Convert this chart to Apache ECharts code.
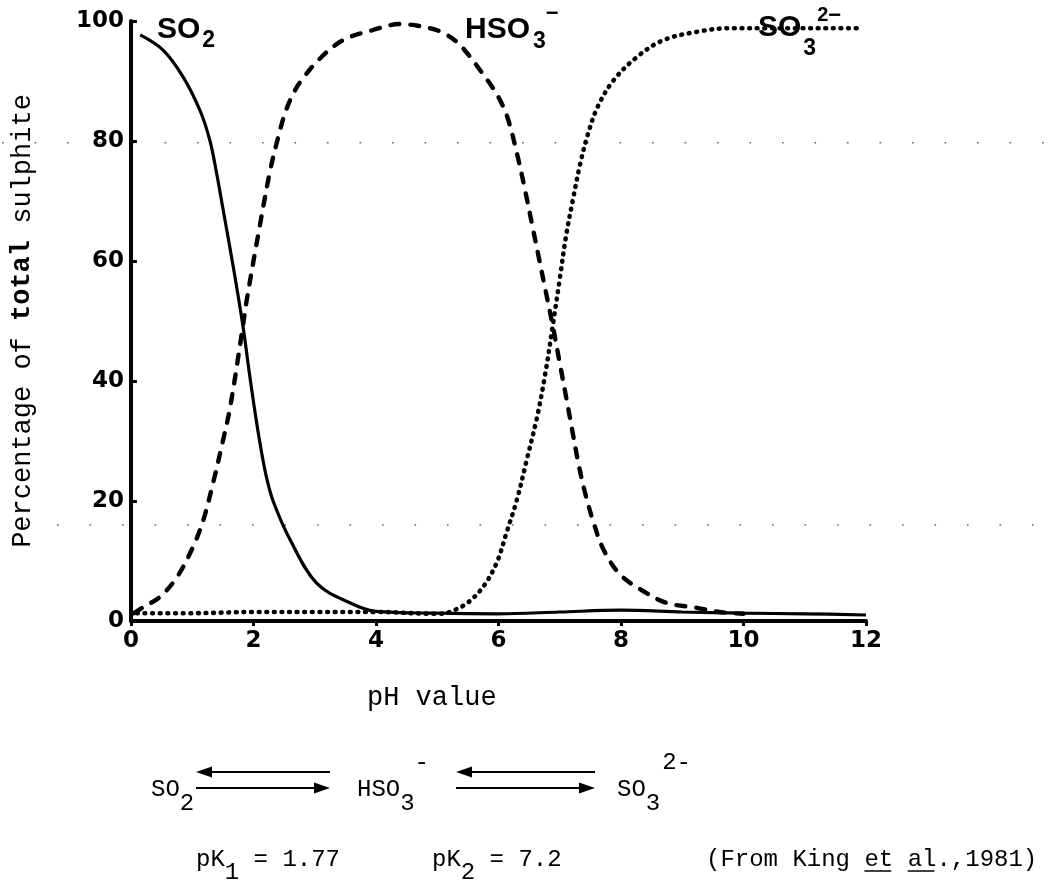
<!DOCTYPE html>
<html><head><meta charset="utf-8">
<script src="https://cdn.jsdelivr.net/npm/echarts@6/dist/echarts.min.js"></script>
<style>html,body{margin:0;padding:0;background:#fff}#c{width:1048px;height:883px}</style>
</head><body><div id="c"></div>
<script>
// ---- data ----
const xTicks = [0, 2, 4, 6, 8, 10, 12];
const yTicks = [0, 20, 40, 60, 80, 100];
// SO2 (solid)
const so2 = [[0.15,97.7],[0.52,95.2],[0.85,90.7],[1.13,85],[1.29,80],[1.4,74.5],[1.5,68.8],[1.67,59],[1.83,49],[1.93,41.5],[2.0,36.5],[2.1,30],[2.2,24.5],[2.32,20],[2.6,13.5],[3.03,6.3],[3.58,3],[4.0,1.6],[5,1.3],[6,1.2],[7,1.5],[8,1.8],[9,1.5],[10,1.3],[11,1.2],[12,1.0]];
// HSO3- (dashed)
const hso3 = [[0.05,1.3],[0.2,2.3],[0.47,4],[0.75,7.3],[1.01,12.3],[1.18,16.8],[1.34,23],[1.5,30],[1.62,35.7],[1.81,48],[1.89,53.5],[2.1,65.7],[2.27,75],[2.4,80.5],[2.51,84.5],[2.62,87.3],[2.76,89.8],[3.09,93.8],[3.46,96.8],[3.95,98.5],[4.39,99.5],[4.88,98.8],[5.1,98],[5.32,96.5],[5.5,94.5],[5.7,91.8],[5.91,88.8],[6.05,86.3],[6.16,83.5],[6.3,78],[6.43,72],[6.55,66],[6.66,60.5],[6.78,54.5],[6.89,49],[7.0,43],[7.11,37],[7.2,32],[7.3,26.5],[7.41,21.5],[7.55,16.5],[7.71,12],[7.98,7.8],[8.36,5],[8.75,3],[9.24,2.2],[9.6,1.5],[10,1.2]];
// SO3 2- (dotted)
const so3 = [[0.1,1.3],[1,1.3],[2,1.5],[3,1.5],[4,1.5],[5,1.2],[5.2,1.5],[5.49,3],[5.75,5.7],[5.97,9.7],[6.13,14.7],[6.3,20.2],[6.46,26.8],[6.63,34],[6.76,41],[6.89,49.5],[7.0,57],[7.1,64],[7.22,70.5],[7.33,76],[7.45,80.8],[7.61,85.5],[7.87,90],[8.26,94],[8.69,96.8],[9.24,98.2],[9.78,98.8],[11.95,98.8]];
const pageDotLevels = [79.7, 16];
const xTitle = 'pH value';
const yTitleParts = ['Percentage of ', 'total', ' sulphite'];
const pK1 = '1.77', pK2 = '7.2';

// ---- chart ----
const chart = echarts.init(document.getElementById('c'), null, {renderer: 'canvas'});
const mono = '"Liberation Mono", "Courier New", monospace';
const sans = '"Liberation Sans", Arial, sans-serif';
const tickFam = '"DejaVu Sans", sans-serif';

chart.setOption({
  animation: false,
  backgroundColor: '#fff',
  grid: {left: 131, right: 182, top: 21, bottom: 262},
  xAxis: {
    type: 'value', min: xTicks[0], max: xTicks[xTicks.length-1], interval: 2,
    axisLine: {show: true, lineStyle: {color: '#000', width: 4}},
    axisTick: {show: true, length: 5, lineStyle: {color: '#000', width: 3}},
    axisLabel: {color: '#000', fontFamily: tickFam, fontWeight: 'bold', fontSize: 23, margin: 9},
    splitLine: {show: false}
  },
  yAxis: {
    type: 'value', min: yTicks[0], max: yTicks[yTicks.length-1], interval: 20,
    axisLine: {show: true, lineStyle: {color: '#000', width: 4}},
    axisTick: {show: true, inside: true, length: 6, lineStyle: {color: '#000', width: 3}},
    axisLabel: {color: '#000', fontFamily: tickFam, fontWeight: 'bold', fontSize: 23, margin: 7},
    splitLine: {show: false},
    name: '{n|' + yTitleParts[0] + '}{b|' + yTitleParts[1] + '}{n|' + yTitleParts[2] + '}',
    nameLocation: 'middle', nameGap: 95,
    nameTextStyle: {
      rich: {
        n: {fontFamily: mono, fontSize: 27, color: '#000'},
        b: {fontFamily: mono, fontSize: 27, fontWeight: 'bold', color: '#000'}
      }
    }
  },
  series: [
    {type: 'line', data: so2, showSymbol: false, smooth: 0.35,
     lineStyle: {color: '#000', width: 3.2}, z: 3},
    {type: 'line', data: hso3, showSymbol: false, smooth: 0.35,
     lineStyle: {color: '#000', width: 4.4, type: [9, 11], cap: 'round'}, z: 3},
    {type: 'line', data: so3, showSymbol: false, smooth: 0.35,
     lineStyle: {color: '#000', width: 4.6, type: [0.8, 6.8], cap: 'round'}, z: 3}
  ]
});

// ---- annotations ----
const ctx = document.createElement('canvas').getContext('2d');
function formula(x, y, parts, o) {
  const els = []; let cx = x;
  for (const p of parts) {
    const size = p.size || o.size;
    const weight = o.weight || 'normal';
    const px = cx + (p.dx || 0);
    els.push({type: 'text', x: px, y: y + (p.dy || 0), silent: true, z: 100,
      style: {text: p.t, fontSize: size, fontFamily: o.family, fontWeight: weight, fill: '#000',
              textAlign: 'left', align: 'left', textVerticalAlign: 'middle', verticalAlign: 'middle'}});
    ctx.font = weight + ' ' + size + 'px ' + o.family;
    cx = px + ctx.measureText(p.t).width;
    if (p.under) {
      els.push({type: 'line', silent: true, z: 100, shape: {x1: px, y1: y + 11, x2: cx - 2, y2: y + 11},
        style: {stroke: '#000', lineWidth: 1.5}});
    }
  }
  return els;
}
function arrowPair(x1, x2, yTop, yBot) {
  const hl = 16, hh = 5.5;
  return [
    {type: 'line', silent: true, shape: {x1: x1 + hl - 2, y1: yTop, x2: x2, y2: yTop}, style: {stroke: '#000', lineWidth: 2}},
    {type: 'polygon', silent: true, shape: {points: [[x1, yTop], [x1 + hl, yTop - hh], [x1 + hl, yTop + hh]]}, style: {fill: '#000'}},
    {type: 'line', silent: true, shape: {x1: x1, y1: yBot, x2: x2 - hl + 2, y2: yBot}, style: {stroke: '#000', lineWidth: 2}},
    {type: 'polygon', silent: true, shape: {points: [[x2, yBot], [x2 - hl, yBot - hh], [x2 - hl, yBot + hh]]}, style: {fill: '#000'}}
  ];
}

const lab = {family: sans, weight: 'bold', size: 30};
const mo = {family: mono, size: 24};
let g = [];
// page dotted rules
pageDotLevels.forEach((v, i) => {
  const py = chart.convertToPixel({gridIndex: 0}, [0, v])[1];
  g.push({type: 'line', silent: true, z: -1, shape: {x1: i === 0 ? 2 : 24.5, y1: py, x2: 1048, y2: py},
    style: {stroke: '#666', lineWidth: 1.6, lineDash: [1.6, 30.9]}});
});
// curve labels
g = g.concat(formula(157, 30, [{t: 'SO'}, {t: '2', size: 23, dy: 11, dx: 2}], lab));
g = g.concat(formula(465, 30, [{t: 'HSO'}, {t: '3', size: 23, dy: 12, dx: 3}, {t: '\u2212', size: 22, dy: -16, dx: 0}], lab));
g = g.concat(formula(758, 28, [{t: 'SO'}, {t: '3', size: 23, dy: 21, dx: 2}, {t: '2', size: 20, dy: -13, dx: 1}, {t: '\u2212', size: 22, dy: -12, dx: 0}], lab));
// axis title x
g = g.concat(formula(367, 698, [{t: xTitle}], {family: mono, size: 27}));
// equilibrium
g = g.concat(formula(151, 790, [{t: 'SO'}, {t: '2', dy: 14}], mo));
g = g.concat(arrowPair(196, 330, 772, 788));
g = g.concat(formula(357, 790, [{t: 'HSO'}, {t: '3', dy: 14}, {t: '-', dy: -27}], mo));
g = g.concat(arrowPair(456, 595, 772, 788));
g = g.concat(formula(617, 790, [{t: 'SO'}, {t: '3', dy: 14}, {t: '2-', dy: -27, dx: 2}], mo));
// constants
g = g.concat(formula(196, 860, [{t: 'pK'}, {t: '1', dy: 13}, {t: ' = ' + pK1}], mo));
g = g.concat(formula(432, 860, [{t: 'pK'}, {t: '2', dy: 13}, {t: ' = ' + pK2}], mo));
g = g.concat(formula(706, 860, [{t: '(From King '}, {t: 'et', under: true}, {t: ' '}, {t: 'al', under: true}, {t: '.,1981)'}], mo));

chart.setOption({graphic: {elements: g}});
</script>
</body></html>
